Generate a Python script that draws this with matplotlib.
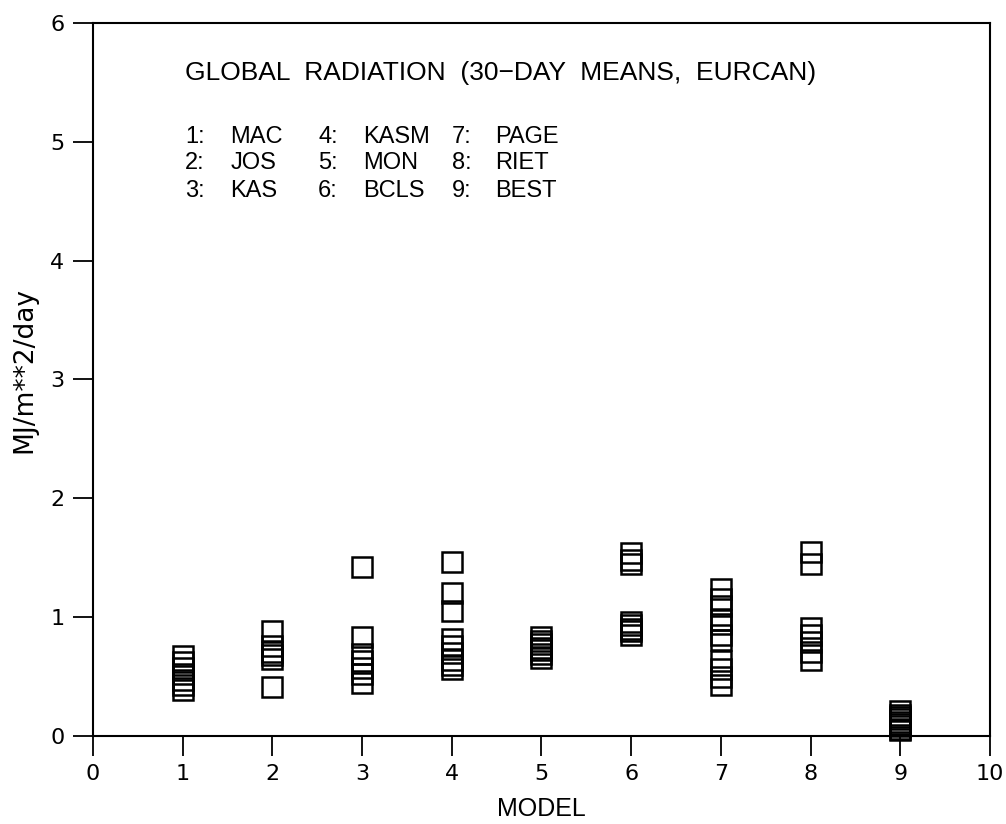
import numpy as np
import matplotlib.pyplot as plt

plt.rcParams['font.family'] = ['Liberation Sans', 'DejaVu Sans']

# 30-day mean global radiation per model, MJ/m**2/day
models = [1, 2, 3, 4, 5, 6, 7, 8, 9]
mac = [0.67, 0.62, 0.57, 0.52, 0.47, 0.43, 0.39]
jos = [0.88, 0.76, 0.71, 0.68, 0.65, 0.41]
kas = [1.42, 0.83, 0.69, 0.63, 0.57, 0.52, 0.45]
kasm = [1.46, 1.20, 1.05, 0.82, 0.76, 0.70, 0.64, 0.60, 0.56]
mon = [0.83, 0.80, 0.77, 0.74, 0.72, 0.69, 0.66]
bcls = [1.54, 1.48, 1.45, 0.96, 0.93, 0.90, 0.88, 0.85]
page = [1.24, 1.15, 1.09, 0.98, 0.94, 0.85, 0.81, 0.63, 0.56, 0.50, 0.43]
riet = [1.55, 1.45, 0.91, 0.85, 0.79, 0.71, 0.64]
best = [0.21, 0.18, 0.16, 0.14, 0.12, 0.10, 0.08, 0.06, 0.05]
series = [mac, jos, kas, kasm, mon, bcls, page, riet, best]

title = 'GLOBAL  RADIATION  (30\u2212DAY  MEANS,  EURCAN)'
key_nums = [['1:', '2:', '3:'], ['4:', '5:', '6:'], ['7:', '8:', '9:']]
key_names = [['MAC', 'JOS', 'KAS'], ['KASM', 'MON', 'BCLS'], ['PAGE', 'RIET', 'BEST']]

fig = plt.figure(figsize=(10.06, 8.24), dpi=100)
ax = fig.add_axes([0.0924, 0.1068, 0.8917, 0.8653])

xs = []
ys = []
for m, vals in zip(models, series):
    xs += [m] * len(vals)
    ys += vals
ax.plot(xs, ys, 's', mfc='none', mec='black', ms=14, mew=1.8, clip_on=False, zorder=3)

ax.set_xlim(0, 10)
ax.set_ylim(0, 6)
ax.set_xticks(np.arange(0, 11))
ax.set_yticks(np.arange(0, 7))
ax.tick_params(direction='out', length=14.5, width=1.3, labelsize=16, pad=6, color='black')
for lab in ax.get_xticklabels() + ax.get_yticklabels():
    lab.set_family('DejaVu Sans')
for s in ax.spines.values():
    s.set_linewidth(1.5)

ax.set_xlabel('MODEL', fontsize=18)
ax.set_ylabel('MJ/m**2/day', fontsize=19, family='DejaVu Sans')
ax.xaxis.set_label_coords(0.5, -0.102)
ax.xaxis.label.set_va('center')
ax.yaxis.set_label_coords(-0.077, 0.513)
ax.yaxis.label.set_va('center')

ax.text(1.03, 5.58, title, fontsize=19, va='center', ha='left')
col_x = [(1.03, 1.53), (2.51, 3.01), (4.00, 4.48)]
row_y = [5.04, 4.82, 4.59]
for (nx, tx), nums, names in zip(col_x, key_nums, key_names):
    for y, n, t in zip(row_y, nums, names):
        ax.text(nx, y, n, fontsize=17, va='center', ha='left')
        ax.text(tx, y, t, fontsize=17, va='center', ha='left')

plt.savefig('out.png', dpi=100)
